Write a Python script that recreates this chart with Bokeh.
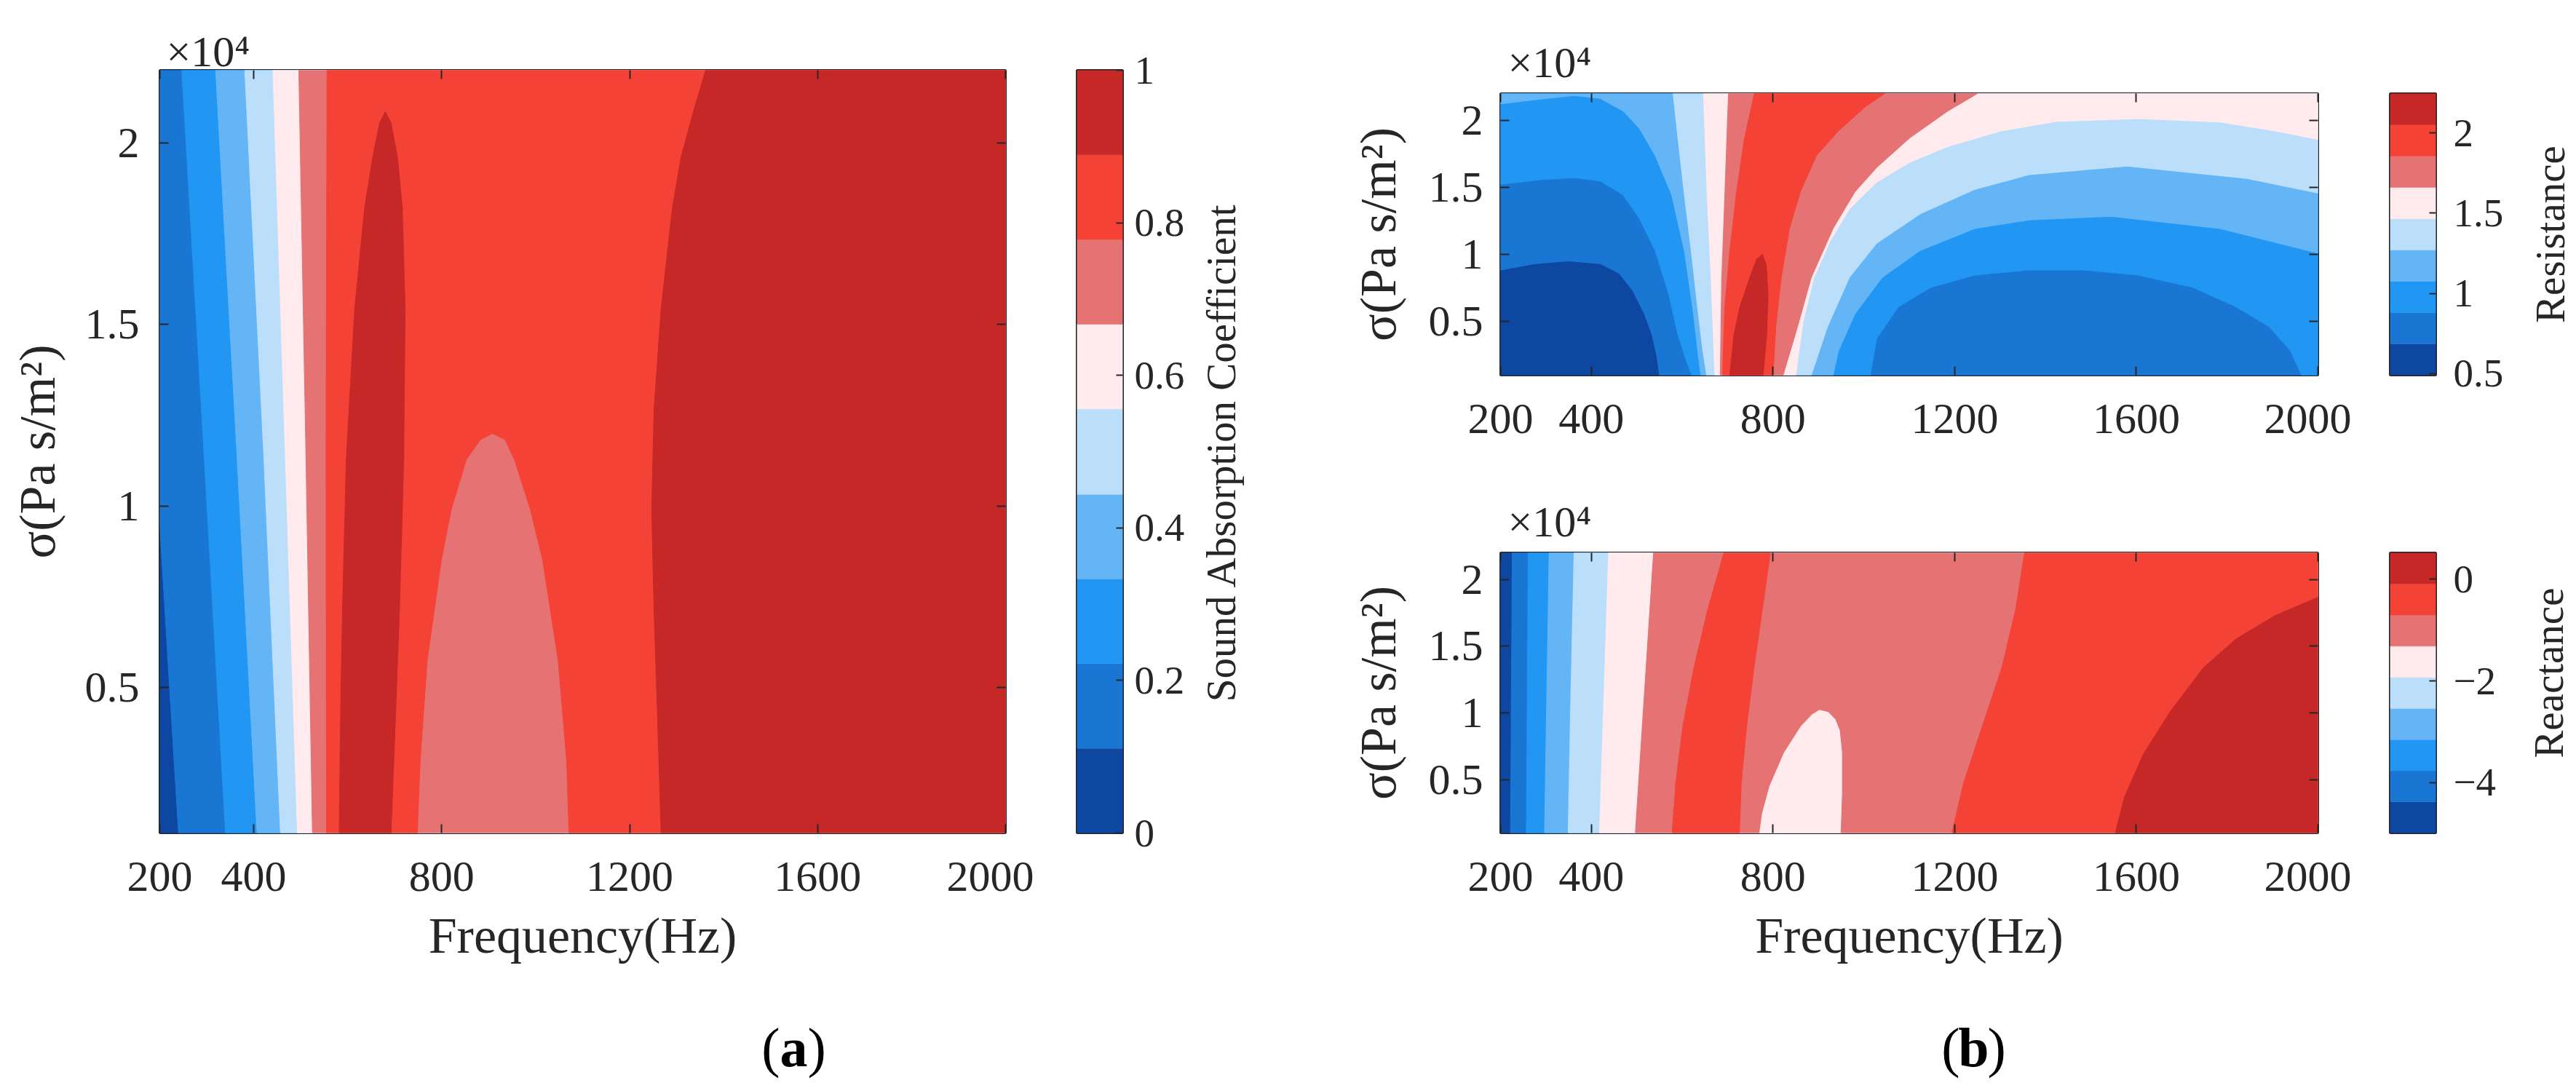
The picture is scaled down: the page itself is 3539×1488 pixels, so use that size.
import math
import json
from bokeh.plotting import figure
from bokeh.models import (Range1d, FixedTicker, LinearAxis, Label, ColumnDataSource, Title,
                          CustomJSTickFormatter)
from bokeh.layouts import row, column
from bokeh.embed import file_html
from bokeh.resources import INLINE

FONT = "Liberation Serif"
INK = "#262626"
BAND_COLORS = ["#0D47A1", "#1976D2", "#2196F3", "#64B5F6", "#BBDEFB",
               "#FFEBEE", "#E57373", "#F44336", "#C62828"]

F_MIN, F_MAX = 200, 2000
S_MIN, S_MAX = 0.1, 2.2
FREQ_TICKS = [200, 400, 800, 1200, 1600, 2000]
SIGMA_TICKS = [0.5, 1, 1.5, 2]
SIGMA_TICK_LABELS = {0.5: "0.5", 1: "1", 1.5: "1.5", 2: "2"}

# colour-bar levels
ABS_LEVELS = [0.0, 0.111, 0.222, 0.333, 0.444, 0.556, 0.667, 0.778, 0.889, 1.0]
ABS_TICKS = [0, 0.2, 0.4, 0.6, 0.8, 1]
ABS_TICK_LABELS = {0: "0", 0.2: "0.2", 0.4: "0.4", 0.6: "0.6", 0.8: "0.8", 1: "1"}
RES_LEVELS = [0.49, 0.685, 0.88, 1.075, 1.27, 1.465, 1.66, 1.855, 2.05, 2.245]
RES_TICKS = [0.5, 1, 1.5, 2]
RES_TICK_LABELS = {0.5: "0.5", 1: "1", 1.5: "1.5", 2: "2"}
REA_LEVELS = [-4.99, -4.378, -3.766, -3.154, -2.542, -1.93, -1.318, -0.706, -0.094, 0.518]
REA_TICKS = [-4, -2, 0]
REA_TICK_LABELS = {-4: "\u22124", -2: "\u22122", 0: "0"}

# ---------------- (a) sound absorption coefficient: contour boundaries (freq Hz, sigma x1e4)
A_C01_F = [200, 220, 240];        A_C01_S = [0.95, 0.52, 0.1]
A_C12_F = [247, 294, 340];        A_C12_S = [2.2, 1.15, 0.1]
A_C23_F = [319, 364, 407];        A_C23_S = [2.2, 1.15, 0.1]
A_C34_F = [381, 421, 457];        A_C34_S = [2.2, 1.15, 0.1]
A_C45_F = [441, 467, 493];        A_C45_S = [2.2, 1.15, 0.1]
A_C56_F = [496, 511, 525];        A_C56_S = [2.2, 1.15, 0.1]
A_C67_F = [556, 554, 555];        A_C67_S = [2.2, 1.15, 0.1]
A_DOME_F = [748, 754, 769, 799, 820, 852, 882, 908, 935, 955, 989, 1015, 1048, 1066, 1071]
A_DOME_S = [0.1, 0.298, 0.575, 0.851, 0.99, 1.128, 1.183, 1.2, 1.183, 1.128, 0.99, 0.851, 0.575, 0.298, 0.1]
A_PEAK_F = [582, 585, 589, 597, 615, 636, 653, 668, 680, 692, 706, 716, 722, 719, 710, 702, 692]
A_PEAK_S = [0.1, 0.436, 0.713, 1.128, 1.543, 1.82, 1.958, 2.055, 2.085, 2.055, 1.958, 1.82, 1.543, 1.128, 0.713, 0.436, 0.1]
A_HIGH_F = [1362, 1338, 1309, 1291, 1267, 1252, 1247, 1252, 1259, 1267]
A_HIGH_S = [2.2, 2.096, 1.958, 1.82, 1.543, 1.266, 0.99, 0.713, 0.436, 0.1]

# ---------------- (b) resistance
R_C01_F = [200, 277, 348, 420, 462, 491, 516, 534, 545, 550]
R_C01_S = [0.884, 0.932, 0.953, 0.932, 0.858, 0.733, 0.566, 0.399, 0.232, 0.1]
R_C12_F = [200, 291, 362, 420, 470, 505, 541, 570, 591, 609, 621]
R_C12_S = [1.523, 1.559, 1.573, 1.548, 1.444, 1.276, 1.026, 0.712, 0.399, 0.211, 0.1]
R_C23_F = [200, 291, 362, 420, 470, 505, 541, 577, 605, 623, 634, 641]
R_C23_S = [2.123, 2.16, 2.185, 2.164, 2.07, 1.945, 1.736, 1.444, 1.026, 0.608, 0.294, 0.1]
R_C34_F = [580, 591, 605, 620, 634, 645, 654]
R_C34_S = [2.2, 1.86, 1.444, 1.026, 0.608, 0.294, 0.1]
R_C45_F = [647, 655, 664, 672];   R_C45_S = [2.2, 1.444, 0.8, 0.1]
R_C56_F = [702, 694, 687, 684];   R_C56_S = [2.2, 1.444, 0.8, 0.1]
R_C67_F = [759, 737, 719, 705, 694, 689]
R_C67_S = [2.2, 1.86, 1.444, 1.026, 0.608, 0.1]
R_PEAK_F = [705, 714, 727, 748, 764, 777, 785, 789, 786, 778]
R_PEAK_S = [0.1, 0.399, 0.608, 0.817, 0.963, 1.0, 0.921, 0.712, 0.399, 0.1]
R_R76_F = [800, 806, 818, 836, 860, 896, 944, 1004, 1046]
R_R76_S = [0.1, 0.464, 0.829, 1.194, 1.467, 1.741, 1.923, 2.105, 2.2]
R_R65_F = [822, 854, 884, 932, 980, 1028, 1100, 1184, 1250]
R_R65_S = [0.1, 0.464, 0.829, 1.194, 1.467, 1.649, 1.868, 2.069, 2.2]
R_R54_F = [850, 866, 890, 926, 968, 1028, 1100, 1184, 1304, 1424, 1604, 1784, 1904, 2000]
R_R54_S = [0.1, 0.501, 0.829, 1.103, 1.34, 1.54, 1.686, 1.804, 1.923, 1.992, 2.014, 1.987, 1.923, 1.859]
R_R43_F = [884, 920, 968, 1028, 1124, 1244, 1364, 1580, 1844, 2000]
R_R43_S = [0.1, 0.464, 0.829, 1.084, 1.303, 1.485, 1.595, 1.659, 1.567, 1.458]
R_R32_F = [932, 944, 980, 1040, 1124, 1244, 1364, 1544, 1784, 2000]
R_R32_S = [0.1, 0.282, 0.556, 0.829, 1.03, 1.194, 1.258, 1.285, 1.194, 1.011]
R_DOME_F = [1014, 1028, 1076, 1148, 1244, 1364, 1484, 1604, 1724, 1820, 1892, 1940, 1964]
R_DOME_S = [0.1, 0.373, 0.61, 0.756, 0.847, 0.884, 0.884, 0.847, 0.756, 0.61, 0.464, 0.282, 0.1]

# ---------------- (b) reactance
X_C01_F = [226, 224, 222];  X_C01_S = [2.2, 1.15, 0.1]
X_C12_F = [261, 259, 257];  X_C12_S = [2.2, 1.15, 0.1]
X_C23_F = [307, 302, 297];  X_C23_S = [2.2, 1.15, 0.1]
X_C34_F = [362, 355, 349];  X_C34_S = [2.2, 1.15, 0.1]
X_C45_F = [438, 428, 418];  X_C45_S = [2.2, 1.15, 0.1]
X_C56_F = [537, 517, 497];  X_C56_S = [2.2, 1.15, 0.1]
X_C67_F = [692, 656, 626, 602, 586, 578]
X_C67_S = [2.2, 1.769, 1.339, 0.908, 0.477, 0.1]
X_R76_F = [726, 730, 742, 758, 776, 794]
X_R76_S = [0.1, 0.477, 0.908, 1.338, 1.769, 2.2]
X_DOME_F = [769, 775, 791, 823, 860, 885, 902, 922, 938, 948, 953, 953, 950]
X_DOME_S = [0.1, 0.25, 0.45, 0.703, 0.9, 0.99, 1.026, 1.01, 0.955, 0.87, 0.7, 0.4, 0.1]
X_R67_F = [1194, 1220, 1262, 1304, 1334, 1354]
X_R67_S = [0.1, 0.477, 0.908, 1.338, 1.769, 2.2]
X_R78_F = [1554, 1574, 1616, 1676, 1748, 1820, 1904, 2000]
X_R78_S = [0.1, 0.369, 0.692, 1.015, 1.338, 1.554, 1.726, 1.866]


def rect():
    return [F_MIN, F_MAX, F_MAX, F_MIN], [S_MIN, S_MIN, S_MAX, S_MAX]


def right_of(cf, cs):
    xs = list(cf) + [F_MAX, F_MAX]
    ys = list(cs) + [S_MIN, S_MAX]
    if cf[0] == F_MIN and cs[0] < S_MAX:
        xs.append(F_MIN)
        ys.append(S_MAX)
    return xs, ys


def join(*parts):
    xs, ys = [], []
    for px, py in parts:
        xs += list(px)
        ys += list(py)
    return xs, ys


A_LAYERS = [
    (0, rect()),
    (1, right_of(A_C01_F, A_C01_S)),
    (2, right_of(A_C12_F, A_C12_S)),
    (3, right_of(A_C23_F, A_C23_S)),
    (4, right_of(A_C34_F, A_C34_S)),
    (5, right_of(A_C45_F, A_C45_S)),
    (6, right_of(A_C56_F, A_C56_S)),
    (7, join((A_C67_F, A_C67_S), (A_DOME_F, A_DOME_S), ([F_MAX, F_MAX], [S_MIN, S_MAX]))),
    (8, (A_PEAK_F, A_PEAK_S)),
    (8, right_of(A_HIGH_F, A_HIGH_S)),
]

R_LAYERS = [
    (0, rect()),
    (1, right_of(R_C01_F, R_C01_S)),
    (2, join((R_C12_F, R_C12_S), (R_DOME_F, R_DOME_S),
             ([F_MAX, F_MAX, F_MIN], [S_MIN, S_MAX, S_MAX]))),
    (3, join((R_C23_F, R_C23_S), (R_R32_F, R_R32_S), ([F_MAX, F_MIN], [S_MAX, S_MAX]))),
    (4, join((R_C34_F, R_C34_S), (R_R43_F, R_R43_S), ([F_MAX], [S_MAX]))),
    (5, join((R_C45_F, R_C45_S), (R_R54_F, R_R54_S), ([F_MAX], [S_MAX]))),
    (6, join((R_C56_F, R_C56_S), (R_R65_F, R_R65_S))),
    (7, join((R_C67_F, R_C67_S), (R_R76_F, R_R76_S))),
    (8, (R_PEAK_F, R_PEAK_S)),
]

X_LAYERS = [
    (0, rect()),
    (1, right_of(X_C01_F, X_C01_S)),
    (2, right_of(X_C12_F, X_C12_S)),
    (3, right_of(X_C23_F, X_C23_S)),
    (4, right_of(X_C34_F, X_C34_S)),
    (5, right_of(X_C45_F, X_C45_S)),
    (6, join((X_C56_F, X_C56_S), (X_DOME_F, X_DOME_S), ([F_MAX, F_MAX], [S_MIN, S_MAX]))),
    (7, join((X_C67_F, X_C67_S), (X_R76_F, X_R76_S))),
    (7, join((X_R67_F, X_R67_S), ([F_MAX, F_MAX], [S_MAX, S_MIN]))),
    (8, join((X_R78_F, X_R78_S), ([F_MAX], [S_MIN]))),
]


def style_axis(ax, size="60px", standoff=26, show_labels=True):
    ax.major_tick_in = 12
    ax.major_tick_out = 0
    ax.minor_tick_line_color = None
    ax.major_tick_line_color = INK
    ax.major_tick_line_width = 2
    ax.axis_line_color = None
    ax.major_label_text_font = FONT
    ax.major_label_text_color = INK
    ax.major_label_standoff = standoff
    if show_labels:
        ax.major_label_text_font_size = size
    else:
        ax.major_label_text_font_size = "0px"
        ax.major_label_text_color = None
    ax.axis_label_text_font = FONT
    ax.axis_label_text_font_style = "normal"
    ax.axis_label_text_color = INK
    ax.axis_label_text_font_size = "70px"


def contour_panel(layers, fw, fh, borders, xlabel, ytick_standoff, ylabel_standoff,
                  exp_offset, exp_standoff):
    left, right, top, bottom = borders
    p = figure(frame_width=fw, frame_height=fh, x_range=Range1d(F_MIN, F_MAX),
               y_range=Range1d(S_MIN, S_MAX), output_backend="svg",
               toolbar_location=None, title=None,
               min_border_left=left, min_border_right=right,
               min_border_top=top, min_border_bottom=bottom)
    p.background_fill_color = "white"
    p.border_fill_color = "white"
    p.grid.visible = False
    src = ColumnDataSource(dict(xs=[l[1][0] for l in layers], ys=[l[1][1] for l in layers],
                                c=[BAND_COLORS[l[0]] for l in layers]))
    p.patches("xs", "ys", source=src, fill_color="c", line_color="c", line_width=1.2)

    p.xaxis.ticker = FixedTicker(ticks=FREQ_TICKS)
    p.yaxis.ticker = FixedTicker(ticks=SIGMA_TICKS)
    p.yaxis.major_label_overrides = SIGMA_TICK_LABELS
    style_axis(p.xaxis[0], standoff=40)
    style_axis(p.yaxis[0], standoff=ytick_standoff)
    p.yaxis.axis_label = "\u03c3(Pa s/m\u00b2)"
    p.yaxis.axis_label_standoff = ylabel_standoff
    if xlabel:
        p.xaxis.axis_label = xlabel
        p.xaxis.axis_label_standoff = 20
    top_ax = LinearAxis(ticker=FixedTicker(ticks=FREQ_TICKS))
    right_ax = LinearAxis(ticker=FixedTicker(ticks=SIGMA_TICKS))
    style_axis(top_ax, show_labels=False, standoff=0)
    style_axis(right_ax, show_labels=False, standoff=0)
    p.add_layout(top_ax, "above")
    p.add_layout(right_ax, "right")
    p.add_layout(Title(text="\u00d710\u2074", align="left", offset=exp_offset,
                       standoff=exp_standoff, text_font=FONT, text_font_size="60px",
                       text_font_style="normal", text_color=INK), "above")
    p.outline_line_color = INK
    p.outline_line_width = 3
    p.outline_line_alpha = 1.0
    return p


def text_panel(fw, fh):
    p = figure(frame_width=fw, frame_height=fh, x_range=Range1d(0, 1), y_range=Range1d(0, 1),
               output_backend="svg", toolbar_location=None, title=None,
               x_axis_location=None, y_axis_location=None,
               min_border_left=0, min_border_right=0,
               min_border_top=0, min_border_bottom=0)
    p.outline_line_color = None
    p.background_fill_color = "white"
    p.border_fill_color = "white"
    p.grid.visible = False
    return p


def panel_tag(fw, fh, cx, cy, letter):
    p = text_panel(fw, fh)
    half = 19
    for dx, txt, al, style in ((-half, "(", "right", "normal"), (0, letter, "center", "bold"),
                               (half, ")", "left", "normal")):
        p.add_layout(Label(x=0, y=0, x_offset=cx + dx, y_offset=cy, text=txt,
                           text_font=FONT, text_font_size="76px", text_color="black",
                           text_font_style=style, text_baseline="middle", text_align=al))
    return p


def colorbar_panel(levels, ticks, tick_labels, title, fh, borders, standoff,
                   title_standoff, title_start):
    """title_start: fraction of the bar height where the upward-reading title begins."""
    left, right, top, bottom = borders
    lo, hi = levels[0], levels[-1]
    p = figure(frame_width=63, frame_height=fh, x_range=Range1d(0, 1),
               y_range=Range1d(lo, hi), output_backend="svg",
               toolbar_location=None, title=None, x_axis_location=None,
               y_axis_location="right",
               min_border_left=left, min_border_right=right,
               min_border_top=top, min_border_bottom=bottom)
    p.grid.visible = False
    p.quad(left=0, right=1, bottom=levels[:-1], top=levels[1:],
           fill_color=BAND_COLORS, line_color=BAND_COLORS, line_width=0.5)
    ax = p.yaxis[0]
    ax.ticker = FixedTicker(ticks=ticks)
    ax.major_label_overrides = tick_labels
    style_axis(ax, size="55px", standoff=standoff)
    ax.major_tick_in = 9

    # the colour-bar title, written as the single (rotated) label of a second right axis
    anchor = lo + title_start * (hi - lo)
    lab = LinearAxis(ticker=FixedTicker(ticks=[anchor]),
                     formatter=CustomJSTickFormatter(code="return %s;" % json.dumps(title)))
    style_axis(lab, size="57px", standoff=title_standoff)
    lab.major_tick_in = 0
    lab.major_tick_line_color = None
    lab.major_label_orientation = math.pi / 2
    p.add_layout(lab, "right")
    p.outline_line_color = INK
    p.outline_line_width = 3
    p.outline_line_alpha = 1.0
    return p


# ---- left block (a)
fig_a = contour_panel(A_LAYERS, 1162, 1048, (219, 39, 96, 226), "Frequency(Hz)", 28, 24, 9, -14)
tag_a = panel_tag(1420, 114, 871, 46, "a")
cb_a = colorbar_panel(ABS_LEVELS, ABS_TICKS, ABS_TICK_LABELS, "Sound Absorption Coefficient",
                      1048, (59, 218, 96, 340), 16, 47, 0.172)

# ---- right block (b)
fig_r = contour_panel(R_LAYERS, 1123, 387, (301, 46, 128, 125), None, 24, 28, 10, 20)
fig_x = contour_panel(X_LAYERS, 1123, 385, (301, 46, 119, 226), "Frequency(Hz)", 24, 28, 10, 20)
tag_b = panel_tag(1470, 114, 650, 46, "b")
cb_r = colorbar_panel(RES_LEVELS, RES_TICKS, RES_TICK_LABELS, "Resistance",
                      387, (53, 189, 128, 125), 24, 61, 0.185)
cb_x = colorbar_panel(REA_LEVELS, REA_TICKS, REA_TICK_LABELS, "Reactance",
                      385, (53, 189, 119, 340), 24, 69, 0.267)

layout = row(column(fig_a, tag_a), cb_a, column(fig_r, fig_x, tag_b), column(cb_r, cb_x))

with open("out.html", "w") as f:
    f.write(file_html(layout, INLINE))
